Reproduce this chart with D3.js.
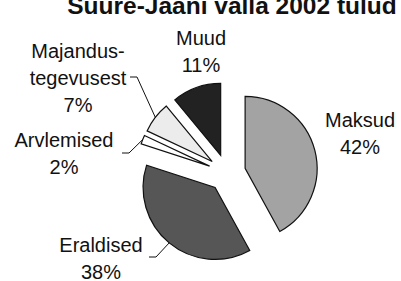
<!DOCTYPE html>
<html>
<head>
<meta charset="utf-8">
<script src="https://cdn.jsdelivr.net/npm/d3@7"></script>
<style>
  body { margin: 0; background: #fff; }
  text { font-family: "Liberation Sans", Arial, sans-serif; fill: #111; }
</style>
</head>
<body>
<div id="container"></div>
<script>
const title = "Suure-Jaani valla 2002 tulud";
const categories = ["Maksud", "Eraldised", "Arvlemised", "Majandustegevusest", "Muud"];
const values = [42, 38, 2, 7, 11];
const labelLines = [["Maksud"], ["Eraldised"], ["Arvlemised"], ["Majandus-", "tegevusest"], ["Muud"]];
const colors = ["#a3a3a3", "#565656", "#ffffff", "#ececec", "#222222"];

const w = 401, h = 281;
const cx = 227, cy = 173, radius = 72, explode = 18.7;

// label anchor (center x, first baseline y) and leader bend
const labelPos = [
  {x: 360, y: 127, leader: false},
  {x: 101, y: 252, leader: true, ex: 149, ey: 257, bx: 156},
  {x: 64, y: 147, leader: true, ex: 122, ey: 153, bx: 129},
  {x: 78, y: 58, leader: true, ex: 130, ey: 77, bx: 137},
  {x: 201, y: 45, leader: false}
];
const lineH = 27;

const svg = d3.select("#container").append("svg")
  .attr("width", w).attr("height", h);

svg.append("text")
  .attr("x", 232).attr("y", 14)
  .attr("text-anchor", "middle")
  .style("font-size", "24.5px").style("font-weight", "bold")
  .text(title);

const pie = d3.pie().sort(null).value(d => d)(values);
const arc = d3.arc().innerRadius(0).outerRadius(radius);

const g = svg.append("g").attr("transform", "translate(" + cx + "," + cy + ")");

pie.forEach(function(p, i) {
  const mid = (p.startAngle + p.endAngle) / 2;
  const ox = Math.sin(mid) * explode, oy = -Math.cos(mid) * explode;
  g.append("path")
    .attr("d", arc(p))
    .attr("transform", "translate(" + ox + "," + oy + ")")
    .attr("fill", colors[i])
    .attr("stroke", "#111")
    .attr("stroke-width", 1.2);

  const lp = labelPos[i];
  const lines = labelLines[i].concat([values[i] + "%"]);
  lines.forEach(function(t, k) {
    svg.append("text")
      .attr("x", lp.x).attr("y", lp.y + k * lineH)
      .attr("text-anchor", "middle")
      .style("font-size", "20px")
      .text(t);
  });

  if (lp.leader) {
    const px = cx + ox + Math.sin(mid) * radius;
    const py = cy + oy - Math.cos(mid) * radius;
    svg.append("polyline")
      .attr("points", [[lp.ex, lp.ey], [lp.bx, lp.ey], [px, py]].map(d => d.join(",")).join(" "))
      .attr("fill", "none")
      .attr("stroke", "#111")
      .attr("stroke-width", 1);
  }
});
</script>
</body>
</html>
